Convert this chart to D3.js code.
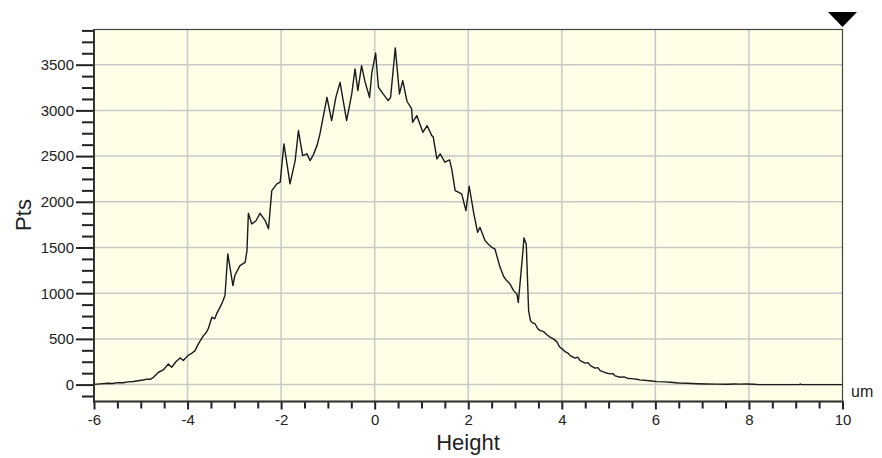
<!DOCTYPE html>
<html><head><meta charset="utf-8">
<script src="https://cdn.jsdelivr.net/npm/d3@7"></script>
<style>
body{margin:0;background:#fff}
svg{display:block}
text{font-family:"Liberation Sans",Arial,sans-serif;fill:#222}
</style>
</head><body>
<svg id="c" width="882" height="458"></svg>
<script>
// Height (um) and point counts
const heights = [-6.00,-5.87,-5.70,-5.60,-5.49,-5.38,-5.27,-5.15,-5.06,-4.95,-4.87,-4.80,-4.73,-4.62,-4.52,-4.41,-4.34,-4.25,-4.16,-4.09,-3.99,-3.93,-3.84,-3.77,-3.66,-3.60,-3.56,-3.48,-3.42,-3.38,-3.27,-3.20,-3.14,-3.03,-2.99,-2.88,-2.77,-2.73,-2.70,-2.63,-2.54,-2.45,-2.34,-2.27,-2.20,-2.09,-2.02,-1.94,-1.81,-1.70,-1.63,-1.54,-1.45,-1.38,-1.31,-1.23,-1.17,-1.02,-0.92,-0.83,-0.74,-0.60,-0.49,-0.42,-0.36,-0.28,-0.21,-0.11,-0.06,0.02,0.08,0.18,0.29,0.34,0.44,0.53,0.60,0.69,0.79,0.81,0.90,1.03,1.12,1.22,1.25,1.33,1.40,1.50,1.60,1.65,1.72,1.86,1.95,2.02,2.12,2.20,2.25,2.36,2.42,2.50,2.57,2.68,2.76,2.82,2.89,2.97,3.04,3.07,3.17,3.19,3.24,3.29,3.33,3.36,3.43,3.49,3.54,3.61,3.68,3.75,3.82,3.89,3.96,4.02,4.07,4.13,4.18,4.28,4.34,4.39,4.50,4.56,4.61,4.71,4.77,4.82,4.93,5.03,5.09,5.14,5.25,5.33,5.40,5.53,5.60,5.67,5.82,5.93,6.03,6.20,6.32,6.50,6.67,6.90,7.10,7.30,7.53,7.70,7.81,7.95,8.10,8.20,9.07,9.10,9.13,10.00];
const pts = [2,8,14,12,22,20,30,34,42,50,60,58,80,135,160,225,190,250,292,263,320,335,372,445,536,570,609,737,720,773,883,974,1430,1083,1193,1302,1338,1466,1874,1758,1790,1874,1794,1704,2122,2196,2214,2633,2196,2451,2779,2505,2524,2451,2516,2620,2743,3143,2888,3143,3307,2888,3180,3454,3217,3490,3320,3143,3417,3627,3253,3180,3107,3143,3684,3180,3326,3100,3016,2870,2943,2760,2834,2724,2713,2469,2524,2433,2458,2350,2122,2086,1904,2170,1868,1666,1721,1575,1540,1502,1484,1283,1180,1138,1102,1028,992,900,1466,1605,1539,810,700,681,663,610,591,580,545,520,500,470,408,385,360,345,317,290,300,263,235,240,208,180,185,153,130,117,120,95,80,84,70,62,58,52,44,40,33,30,25,18,14,10,7,5,3,6,5,7,3,0,0,6,0,0];

const xMajor = [-6,-4,-2,0,2,4,6,8,10];
const xMinor = [-5.5,-5,-4.5,-3.5,-3,-2.5,-1.5,-1,-0.5,0.5,1,1.5,2.5,3,3.5,4.5,5,5.5,6.5,7,7.5,8.5,9,9.5];
const yMajor = [0,500,1000,1500,2000,2500,3000,3500];
const yMinor = [-125,125,250,375,625,750,875,1125,1250,1375,1625,1750,1875,2125,2250,2375,2625,2750,2875,3125,3250,3375,3625,3750,3875];
const xTitle = "Height", yTitle = "Pts", unitLabel = "um";

const L = 94, R = 842.5, T = 29.5, B = 401.5;
const svg = d3.select("#c");
const x = d3.scaleLinear().domain([-6,10]).range([L,R]);
const y = d3.scaleLinear().domain([-185,3885]).range([B,T]);

svg.append("rect").attr("x",L).attr("y",T).attr("width",R-L).attr("height",B-T).attr("fill","#FFFFE8");

const g = svg.append("g");
g.selectAll(".vg").data(xMajor.slice(1,-1)).join("line")
  .attr("x1",d=>x(d)).attr("x2",d=>x(d)).attr("y1",T).attr("y2",B)
  .attr("stroke","#c8c8c8").attr("stroke-width",1.5);
g.selectAll(".hg").data(yMajor).join("line")
  .attr("x1",L).attr("x2",R).attr("y1",d=>y(d)).attr("y2",d=>y(d))
  .attr("stroke","#c8c8c8").attr("stroke-width",1.5);

const data = heights.map((h,i)=>[h,pts[i]]);
svg.append("path").datum(data)
  .attr("d", d3.line().x(d=>x(d[0])).y(d=>y(d[1])))
  .attr("fill","none").attr("stroke","#1a1a1a").attr("stroke-width",1.4).attr("stroke-linejoin","round");

// frame
svg.append("rect").attr("x",L).attr("y",T).attr("width",R-L).attr("height",B-T)
  .attr("fill","none").attr("stroke","#444").attr("stroke-width",1.2);

const fmt = d => String(d);
function styleAxis(sel){
  sel.select(".domain").remove();
  sel.selectAll(".tick line").attr("stroke","#222").attr("stroke-width",2);
  sel.selectAll(".tick text").attr("fill","#222").style("font-size","15px").style("font-family","'Liberation Sans',Arial,sans-serif");
}
// y axis
svg.append("g").attr("transform",`translate(${L},0)`)
  .call(d3.axisLeft(y).tickValues(yMinor).tickSize(12).tickFormat("")).call(styleAxis);
svg.append("g").attr("transform",`translate(${L},0)`)
  .call(d3.axisLeft(y).tickValues(yMajor).tickSize(18).tickPadding(2).tickFormat(fmt)).call(styleAxis);
svg.append("line").attr("x1",L).attr("x2",L).attr("y1",T).attr("y2",B+1).attr("stroke","#333").attr("stroke-width",2);
// x axis
svg.append("g").attr("transform",`translate(0,${B})`)
  .call(d3.axisBottom(x).tickValues(xMinor).tickSize(7).tickFormat("")).call(styleAxis);
svg.append("g").attr("transform",`translate(0,${B})`)
  .call(d3.axisBottom(x).tickValues(xMajor).tickSize(8).tickPadding(5).tickFormat(fmt)).call(styleAxis);
svg.append("line").attr("x1",L-1).attr("x2",R+1).attr("y1",B).attr("y2",B).attr("stroke","#333").attr("stroke-width",2);

// titles
svg.append("text").attr("x",468).attr("y",450).attr("text-anchor","middle").style("font-size","22px").text(xTitle);
svg.append("text").attr("transform","translate(31,215) rotate(-90)").attr("text-anchor","middle").style("font-size","22px").text(yTitle);
svg.append("text").attr("x",851).attr("y",397).style("font-size","16px").text(unitLabel);

// marker triangle
svg.append("path").attr("d",d3.line()([[828,12],[857,12],[842.5,27]])+"Z").attr("fill","#000");
</script>
</body></html>
